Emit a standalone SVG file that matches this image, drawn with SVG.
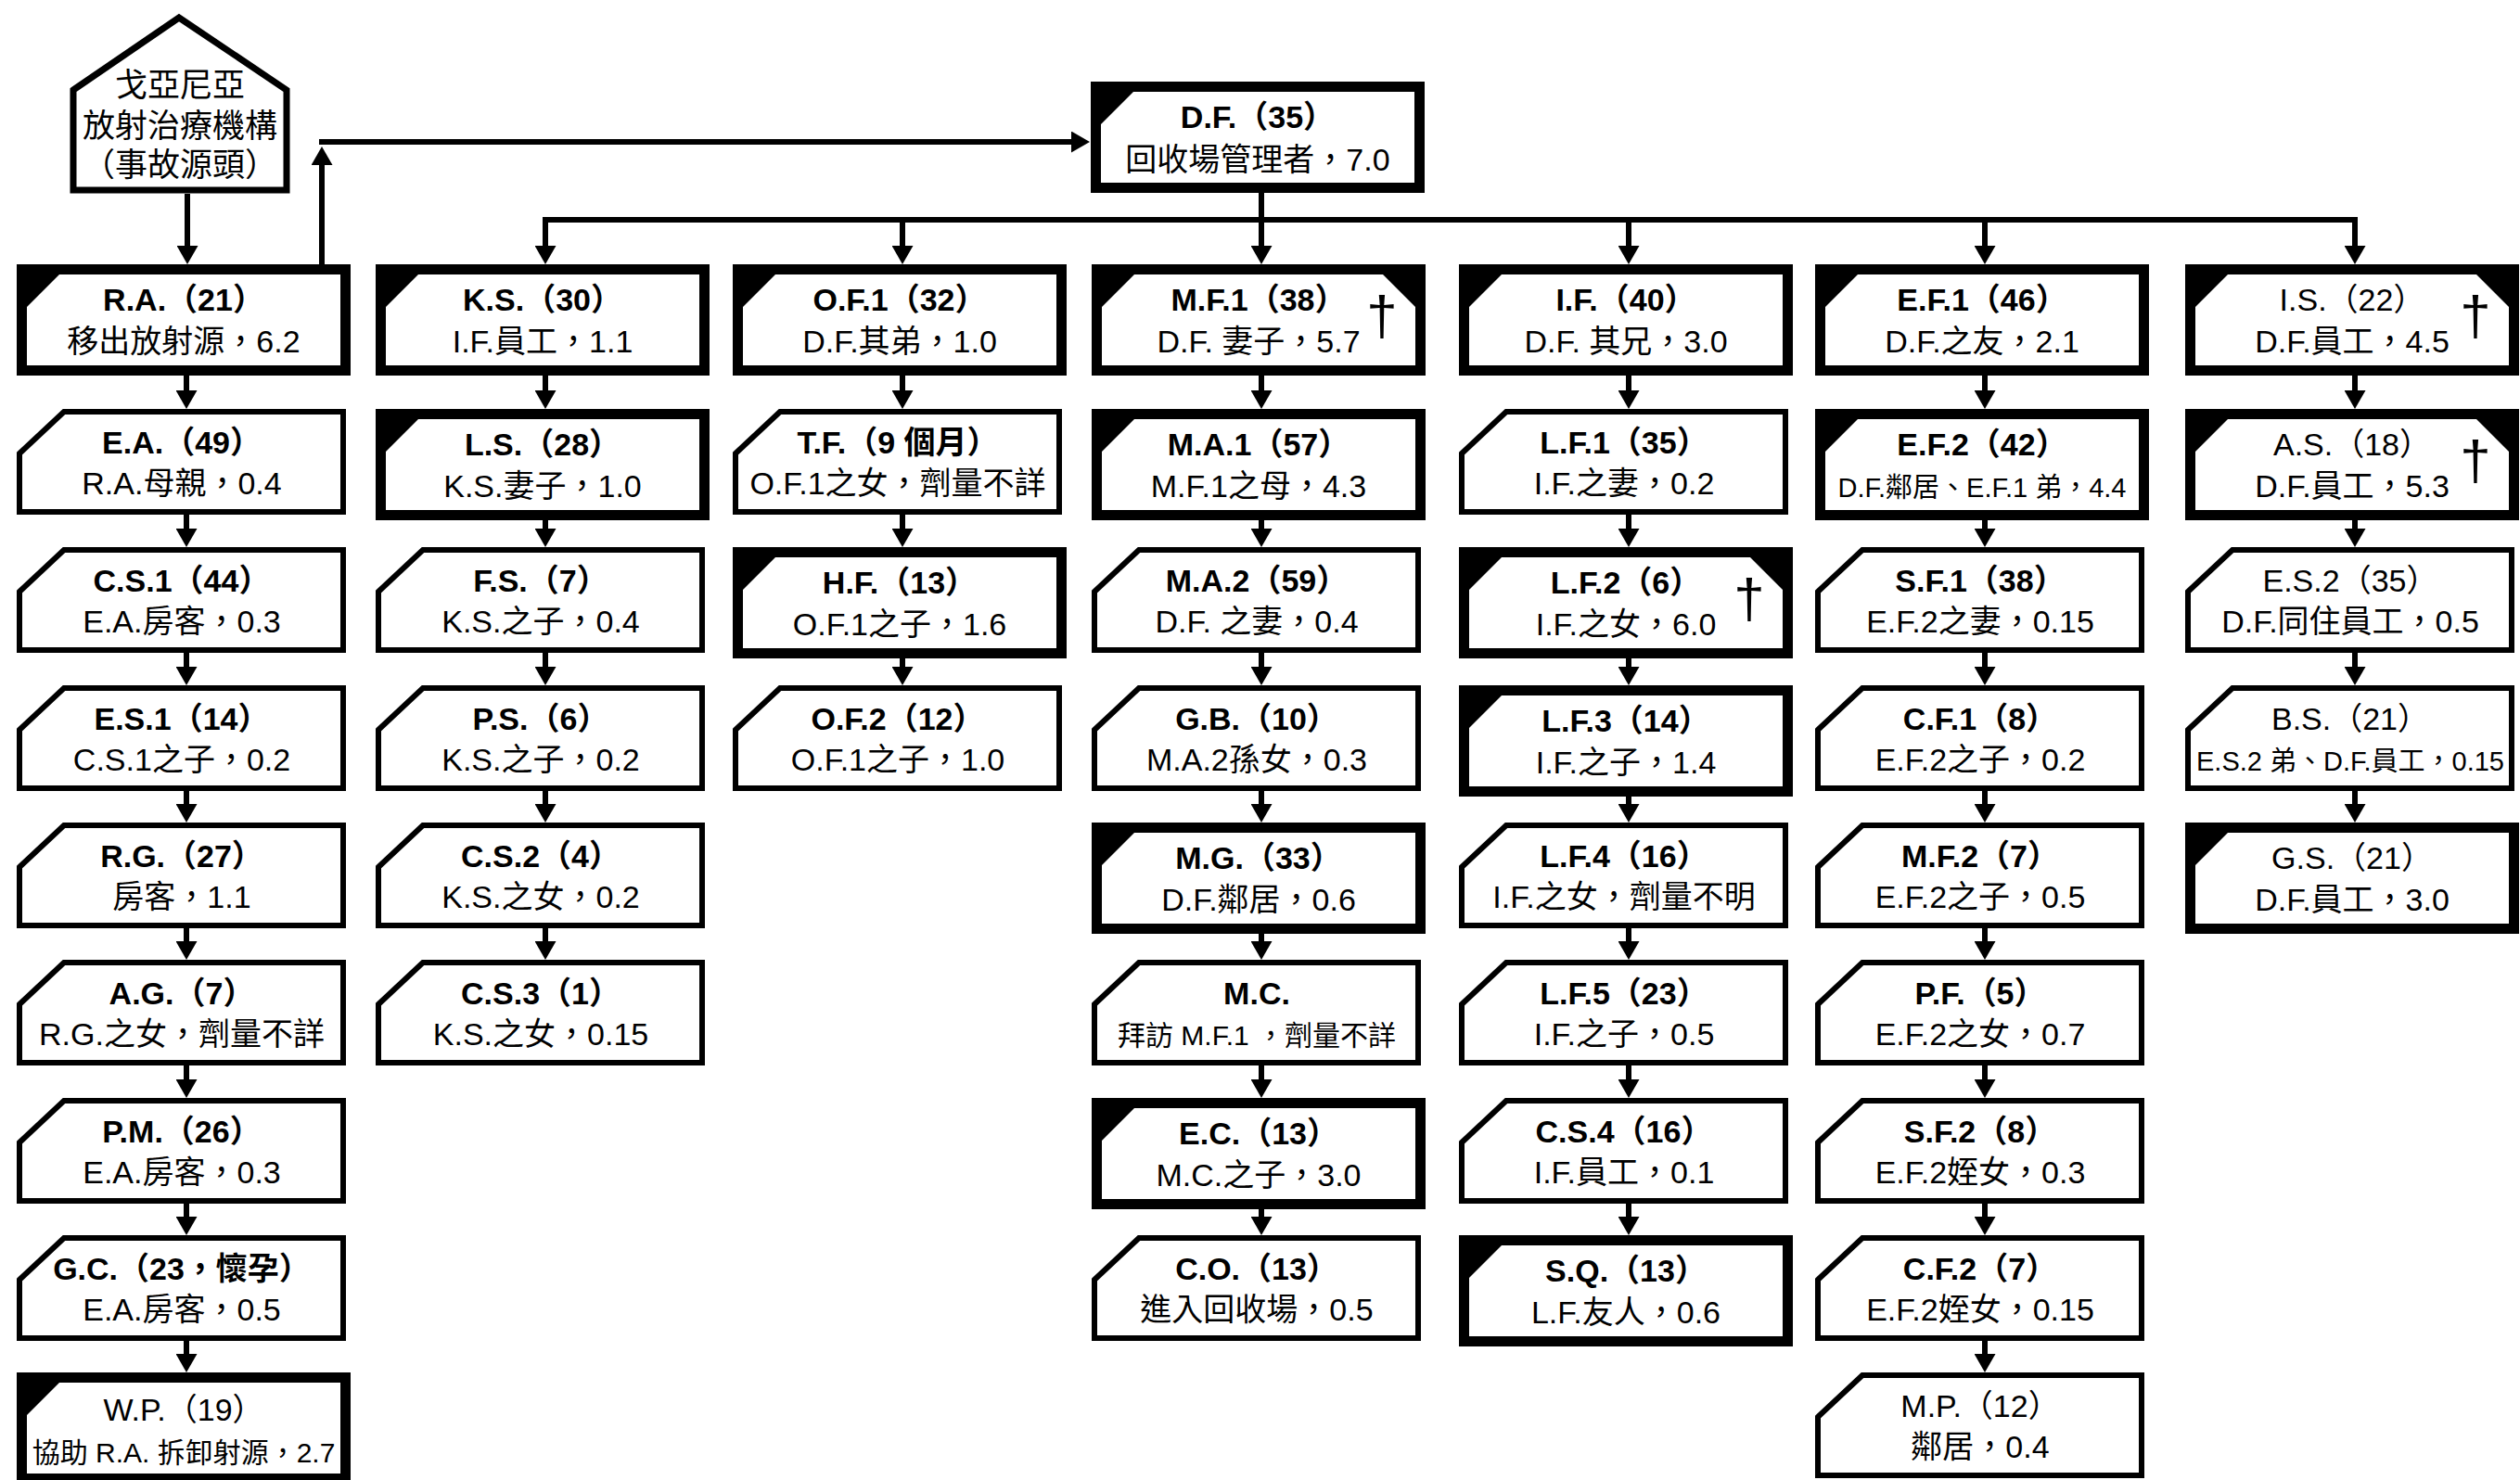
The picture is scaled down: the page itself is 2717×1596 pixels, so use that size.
<svg xmlns="http://www.w3.org/2000/svg" width="2717" height="1596" viewBox="0 0 2717 1596">
<style>
text{font-family:"Liberation Sans","Noto Sans CJK TC",sans-serif;fill:#000;text-anchor:middle}
.t1{font-size:34px;font-weight:bold}
.n{font-weight:normal}
.t2{font-size:34px}
.s30{font-size:30px}
.s29{font-size:29px}
.hs{font-size:35px}
.dg{font-size:60px}
.thin{fill:#fff;stroke:#000;stroke-width:6;stroke-linejoin:miter}
.cn line,.cn polyline{stroke:#000;stroke-width:6;fill:none}
.ar{marker-end:url(#ah)}
</style>
<defs>
<marker id="ah" markerUnits="userSpaceOnUse" markerWidth="20" markerHeight="23" refX="12" refY="11.5" orient="auto"><path d="M0,0 L20,11.5 L0,23 Z" fill="#000"/></marker>
<path id="thinS" class="thin" d="M3,48 L51,3 L352,3 L352,111 L3,111 Z"/>
<g id="thickS"><rect width="360" height="120" fill="#000"/><path d="M11,46 L46,11 L349,11 L349,109 L11,109 Z" fill="#fff"/></g>
<g id="deadS"><rect width="360" height="120" fill="#000"/><path d="M11,46 L46,11 L314,11 L349,46 L349,109 L11,109 Z" fill="#fff"/></g>
</defs>
<rect width="2717" height="1596" fill="#fff"/>

<g id="connectors" class="cn">
<line class="ar" x1="202" y1="209" x2="202" y2="277"/>
<line class="ar" x1="347" y1="285" x2="347" y2="166"/>
<line class="ar" x1="344" y1="153" x2="1167" y2="153"/>
<line x1="1360" y1="208" x2="1360" y2="240"/>
<line x1="585" y1="237" x2="2542" y2="237"/>
<line class="ar" x1="588" y1="237" x2="588" y2="277"/>
<line class="ar" x1="973" y1="237" x2="973" y2="277"/>
<line class="ar" x1="1360" y1="237" x2="1360" y2="277"/>
<line class="ar" x1="1756" y1="237" x2="1756" y2="277"/>
<line class="ar" x1="2140" y1="237" x2="2140" y2="277"/>
<line class="ar" x1="2539" y1="237" x2="2539" y2="277"/>
<!-- col1 -->
<line class="ar" x1="201" y1="405" x2="201" y2="433"/>
<line class="ar" x1="201" y1="555" x2="201" y2="582"/>
<line class="ar" x1="201" y1="704" x2="201" y2="731"/>
<line class="ar" x1="201" y1="853" x2="201" y2="879"/>
<line class="ar" x1="201" y1="1001" x2="201" y2="1027"/>
<line class="ar" x1="201" y1="1149" x2="201" y2="1176"/>
<line class="ar" x1="201" y1="1298" x2="201" y2="1324"/>
<line class="ar" x1="201" y1="1446" x2="201" y2="1472"/>
<!-- col2 -->
<line class="ar" x1="588" y1="405" x2="588" y2="433"/>
<line class="ar" x1="588" y1="561" x2="588" y2="582"/>
<line class="ar" x1="588" y1="704" x2="588" y2="731"/>
<line class="ar" x1="588" y1="853" x2="588" y2="879"/>
<line class="ar" x1="588" y1="1001" x2="588" y2="1027"/>
<!-- col3 -->
<line class="ar" x1="973" y1="405" x2="973" y2="433"/>
<line class="ar" x1="973" y1="555" x2="973" y2="582"/>
<line class="ar" x1="973" y1="710" x2="973" y2="731"/>
<!-- col4 -->
<line class="ar" x1="1360" y1="405" x2="1360" y2="433"/>
<line class="ar" x1="1360" y1="561" x2="1360" y2="582"/>
<line class="ar" x1="1360" y1="704" x2="1360" y2="731"/>
<line class="ar" x1="1360" y1="853" x2="1360" y2="879"/>
<line class="ar" x1="1360" y1="1007" x2="1360" y2="1027"/>
<line class="ar" x1="1360" y1="1149" x2="1360" y2="1176"/>
<line class="ar" x1="1360" y1="1304" x2="1360" y2="1324"/>
<!-- col5 -->
<line class="ar" x1="1756" y1="405" x2="1756" y2="433"/>
<line class="ar" x1="1756" y1="555" x2="1756" y2="582"/>
<line class="ar" x1="1756" y1="710" x2="1756" y2="731"/>
<line class="ar" x1="1756" y1="859" x2="1756" y2="879"/>
<line class="ar" x1="1756" y1="1001" x2="1756" y2="1027"/>
<line class="ar" x1="1756" y1="1149" x2="1756" y2="1176"/>
<line class="ar" x1="1756" y1="1298" x2="1756" y2="1324"/>
<!-- col6 -->
<line class="ar" x1="2140" y1="405" x2="2140" y2="433"/>
<line class="ar" x1="2140" y1="561" x2="2140" y2="582"/>
<line class="ar" x1="2140" y1="704" x2="2140" y2="731"/>
<line class="ar" x1="2140" y1="853" x2="2140" y2="879"/>
<line class="ar" x1="2140" y1="1001" x2="2140" y2="1027"/>
<line class="ar" x1="2140" y1="1149" x2="2140" y2="1176"/>
<line class="ar" x1="2140" y1="1298" x2="2140" y2="1324"/>
<line class="ar" x1="2140" y1="1446" x2="2140" y2="1472"/>
<!-- col7 -->
<line class="ar" x1="2539" y1="405" x2="2539" y2="433"/>
<line class="ar" x1="2539" y1="561" x2="2539" y2="582"/>
<line class="ar" x1="2539" y1="704" x2="2539" y2="731"/>
<line class="ar" x1="2539" y1="853" x2="2539" y2="879"/>
</g>

<g id="source">
<polygon points="79,97 193,19 309,97 309,205 79,205" fill="#fff" stroke="#000" stroke-width="7"/>
<text class="hs" x="194" y="104">戈亞尼亞</text>
<text class="hs" x="194" y="148">放射治療機構</text>
<text class="hs" x="194" y="190">（事故源頭）</text>
</g>

<g id="DF" transform="translate(1176,88)"><use href="#thickS"/><text class="t1" x="180" y="50">D.F.（35）</text><text class="t2" x="180" y="96">回收場管理者，7.0</text></g>

<!-- column 1 -->
<g id="RA" transform="translate(18,285)"><use href="#thickS"/><text class="t1" x="180" y="50">R.A.（21）</text><text class="t2" x="180" y="95">移出放射源，6.2</text></g>
<g id="EA" transform="translate(18,441)"><use href="#thinS"/><text class="t1" x="178" y="48">E.A.（49）</text><text class="t2" x="178" y="92">R.A.母親，0.4</text></g>
<g id="CS1" transform="translate(18,590)"><use href="#thinS"/><text class="t1" x="178" y="48">C.S.1（44）</text><text class="t2" x="178" y="92">E.A.房客，0.3</text></g>
<g id="ES1" transform="translate(18,739)"><use href="#thinS"/><text class="t1" x="178" y="48">E.S.1（14）</text><text class="t2" x="178" y="92">C.S.1之子，0.2</text></g>
<g id="RG" transform="translate(18,887)"><use href="#thinS"/><text class="t1" x="178" y="48">R.G.（27）</text><text class="t2" x="178" y="92">房客，1.1</text></g>
<g id="AG" transform="translate(18,1035)"><use href="#thinS"/><text class="t1" x="178" y="48">A.G.（7）</text><text class="t2" x="178" y="92">R.G.之女，劑量不詳</text></g>
<g id="PM" transform="translate(18,1184)"><use href="#thinS"/><text class="t1" x="178" y="48">P.M.（26）</text><text class="t2" x="178" y="92">E.A.房客，0.3</text></g>
<g id="GC" transform="translate(18,1332)"><use href="#thinS"/><text class="t1" x="178" y="48">G.C.（23，懷孕）</text><text class="t2" x="178" y="92">E.A.房客，0.5</text></g>
<g id="WP" transform="translate(18,1480)"><use href="#thickS"/><text class="t1 n" x="180" y="52">W.P.（19）</text><text class="t2 s30" x="180" y="97">協助 R.A. 拆卸射源，2.7</text></g>

<!-- column 2 -->
<g id="KS" transform="translate(405,285)"><use href="#thickS"/><text class="t1" x="180" y="50">K.S.（30）</text><text class="t2" x="180" y="95">I.F.員工，1.1</text></g>
<g id="LS" transform="translate(405,441)"><use href="#thickS"/><text class="t1" x="180" y="50">L.S.（28）</text><text class="t2" x="180" y="95">K.S.妻子，1.0</text></g>
<g id="FS" transform="translate(405,590)"><use href="#thinS"/><text class="t1" x="178" y="48">F.S.（7）</text><text class="t2" x="178" y="92">K.S.之子，0.4</text></g>
<g id="PS" transform="translate(405,739)"><use href="#thinS"/><text class="t1" x="178" y="48">P.S.（6）</text><text class="t2" x="178" y="92">K.S.之子，0.2</text></g>
<g id="CS2" transform="translate(405,887)"><use href="#thinS"/><text class="t1" x="178" y="48">C.S.2（4）</text><text class="t2" x="178" y="92">K.S.之女，0.2</text></g>
<g id="CS3" transform="translate(405,1035)"><use href="#thinS"/><text class="t1" x="178" y="48">C.S.3（1）</text><text class="t2" x="178" y="92">K.S.之女，0.15</text></g>

<!-- column 3 -->
<g id="OF1" transform="translate(790,285)"><use href="#thickS"/><text class="t1" x="180" y="50">O.F.1（32）</text><text class="t2" x="180" y="95">D.F.其弟，1.0</text></g>
<g id="TF" transform="translate(790,441)"><use href="#thinS"/><text class="t1" x="178" y="48">T.F.（9 個月）</text><text class="t2" x="178" y="92">O.F.1之女，劑量不詳</text></g>
<g id="HF" transform="translate(790,590)"><use href="#thickS"/><text class="t1" x="180" y="50">H.F.（13）</text><text class="t2" x="180" y="95">O.F.1之子，1.6</text></g>
<g id="OF2" transform="translate(790,739)"><use href="#thinS"/><text class="t1" x="178" y="48">O.F.2（12）</text><text class="t2" x="178" y="92">O.F.1之子，1.0</text></g>

<!-- column 4 -->
<g id="MF1" transform="translate(1177,285)"><use href="#deadS"/><text class="t1" x="180" y="50">M.F.1（38）</text><text class="t2" x="180" y="95">D.F. 妻子，5.7</text><text class="dg" x="313" y="76">†</text></g>
<g id="MA1" transform="translate(1177,441)"><use href="#thickS"/><text class="t1" x="180" y="50">M.A.1（57）</text><text class="t2" x="180" y="95">M.F.1之母，4.3</text></g>
<g id="MA2" transform="translate(1177,590)"><use href="#thinS"/><text class="t1" x="178" y="48">M.A.2（59）</text><text class="t2" x="178" y="92">D.F. 之妻，0.4</text></g>
<g id="GB" transform="translate(1177,739)"><use href="#thinS"/><text class="t1" x="178" y="48">G.B.（10）</text><text class="t2" x="178" y="92">M.A.2孫女，0.3</text></g>
<g id="MG" transform="translate(1177,887)"><use href="#thickS"/><text class="t1" x="180" y="50">M.G.（33）</text><text class="t2" x="180" y="95">D.F.鄰居，0.6</text></g>
<g id="MC" transform="translate(1177,1035)"><use href="#thinS"/><text class="t1" x="178" y="48">M.C.</text><text class="t2 s30" x="178" y="92">拜訪 M.F.1 ，劑量不詳</text></g>
<g id="EC" transform="translate(1177,1184)"><use href="#thickS"/><text class="t1" x="180" y="50">E.C.（13）</text><text class="t2" x="180" y="95">M.C.之子，3.0</text></g>
<g id="CO" transform="translate(1177,1332)"><use href="#thinS"/><text class="t1" x="178" y="48">C.O.（13）</text><text class="t2" x="178" y="92">進入回收場，0.5</text></g>

<!-- column 5 -->
<g id="IF" transform="translate(1573,285)"><use href="#thickS"/><text class="t1" x="180" y="50">I.F.（40）</text><text class="t2" x="180" y="95">D.F. 其兄，3.0</text></g>
<g id="LF1" transform="translate(1573,441)"><use href="#thinS"/><text class="t1" x="178" y="48">L.F.1（35）</text><text class="t2" x="178" y="92">I.F.之妻，0.2</text></g>
<g id="LF2" transform="translate(1573,590)"><use href="#deadS"/><text class="t1" x="180" y="50">L.F.2（6）</text><text class="t2" x="180" y="95">I.F.之女，6.0</text><text class="dg" x="313" y="76">†</text></g>
<g id="LF3" transform="translate(1573,739)"><use href="#thickS"/><text class="t1" x="180" y="50">L.F.3（14）</text><text class="t2" x="180" y="95">I.F.之子，1.4</text></g>
<g id="LF4" transform="translate(1573,887)"><use href="#thinS"/><text class="t1" x="178" y="48">L.F.4（16）</text><text class="t2" x="178" y="92">I.F.之女，劑量不明</text></g>
<g id="LF5" transform="translate(1573,1035)"><use href="#thinS"/><text class="t1" x="178" y="48">L.F.5（23）</text><text class="t2" x="178" y="92">I.F.之子，0.5</text></g>
<g id="CS4" transform="translate(1573,1184)"><use href="#thinS"/><text class="t1" x="178" y="48">C.S.4（16）</text><text class="t2" x="178" y="92">I.F.員工，0.1</text></g>
<g id="SQ" transform="translate(1573,1332)"><use href="#thickS"/><text class="t1" x="180" y="50">S.Q.（13）</text><text class="t2" x="180" y="95">L.F.友人，0.6</text></g>

<!-- column 6 -->
<g id="EF1" transform="translate(1957,285)"><use href="#thickS"/><text class="t1" x="180" y="50">E.F.1（46）</text><text class="t2" x="180" y="95">D.F.之友，2.1</text></g>
<g id="EF2" transform="translate(1957,441)"><use href="#thickS"/><text class="t1" x="180" y="50">E.F.2（42）</text><text class="t2 s29" x="180" y="95">D.F.鄰居、E.F.1 弟，4.4</text></g>
<g id="SF1" transform="translate(1957,590)"><use href="#thinS"/><text class="t1" x="178" y="48">S.F.1（38）</text><text class="t2" x="178" y="92">E.F.2之妻，0.15</text></g>
<g id="CF1" transform="translate(1957,739)"><use href="#thinS"/><text class="t1" x="178" y="48">C.F.1（8）</text><text class="t2" x="178" y="92">E.F.2之子，0.2</text></g>
<g id="MF2" transform="translate(1957,887)"><use href="#thinS"/><text class="t1" x="178" y="48">M.F.2（7）</text><text class="t2" x="178" y="92">E.F.2之子，0.5</text></g>
<g id="PF" transform="translate(1957,1035)"><use href="#thinS"/><text class="t1" x="178" y="48">P.F.（5）</text><text class="t2" x="178" y="92">E.F.2之女，0.7</text></g>
<g id="SF2" transform="translate(1957,1184)"><use href="#thinS"/><text class="t1" x="178" y="48">S.F.2（8）</text><text class="t2" x="178" y="92">E.F.2姪女，0.3</text></g>
<g id="CF2" transform="translate(1957,1332)"><use href="#thinS"/><text class="t1" x="178" y="48">C.F.2（7）</text><text class="t2" x="178" y="92">E.F.2姪女，0.15</text></g>
<g id="MP" transform="translate(1957,1480)"><use href="#thinS"/><text class="t1 n" x="178" y="48">M.P.（12）</text><text class="t2" x="178" y="92">鄰居，0.4</text></g>

<!-- column 7 -->
<g id="IS" transform="translate(2356,285)"><use href="#deadS"/><text class="t1 n" x="180" y="50">I.S.（22）</text><text class="t2" x="180" y="95">D.F.員工，4.5</text><text class="dg" x="313" y="76">†</text></g>
<g id="AS" transform="translate(2356,441)"><use href="#deadS"/><text class="t1 n" x="180" y="50">A.S.（18）</text><text class="t2" x="180" y="95">D.F.員工，5.3</text><text class="dg" x="313" y="76">†</text></g>
<g id="ES2" transform="translate(2356,590)"><use href="#thinS"/><text class="t1 n" x="178" y="48">E.S.2（35）</text><text class="t2" x="178" y="92">D.F.同住員工，0.5</text></g>
<g id="BS" transform="translate(2356,739)"><use href="#thinS"/><text class="t1 n" x="178" y="48">B.S.（21）</text><text class="t2 s29" x="178" y="92">E.S.2 弟、D.F.員工，0.15</text></g>
<g id="GS" transform="translate(2356,887)"><use href="#thickS"/><text class="t1 n" x="180" y="50">G.S.（21）</text><text class="t2" x="180" y="95">D.F.員工，3.0</text></g>
</svg>
